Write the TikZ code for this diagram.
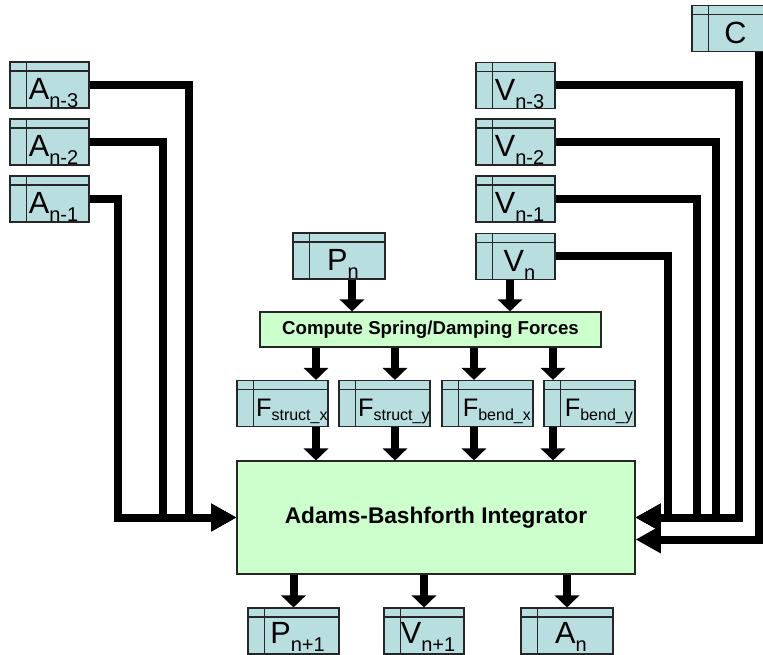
\documentclass[tikz,border=0pt]{standalone}
\usepackage{fontspec}
\setmainfont{Liberation Sans}
\usetikzlibrary{arrows.meta}
\definecolor{storeblue}{HTML}{B8DEE0}
\definecolor{procgreen}{HTML}{CCFFCC}
\newcommand{\lsub}[1]{\raisebox{-6pt}{\fontsize{15}{15}\selectfont #1}}
\newcommand{\fsub}[1]{\raisebox{-3pt}{\fontsize{12}{12}\selectfont #1}}
\tikzset {
  >=Stealth,
  store/.style={draw=black!85, line width=0.8pt, fill=storeblue, inner sep=0pt,
    text height=28.5pt, text depth=6pt, minimum width=#1,
    font=\fontsize{23}{23}\selectfont,
    execute at begin node={\kern6pt},
    path picture={
      \draw[line width=0.8pt] ([yshift=-6.75pt]path picture bounding box.north west) -- ([yshift=-6.75pt]path picture bounding box.north east);
      \draw[line width=0.8pt] ([xshift=12.5pt]path picture bounding box.north west) -- ([xshift=12.5pt]path picture bounding box.south west);
    }},
  store/.default=59.25pt,
  force/.style={store=68.25pt, font=\fontsize{19}{19}\selectfont,
    text height=27pt, text depth=7.5pt, execute at begin node={\kern8pt}},
  result/.style={store=#1, text height=26.5pt, text depth=8pt},
  proc/.style={draw=black!85, line width=0.8pt, fill=procgreen, inner sep=0pt},
  feed/.style={line width=6pt, -{Triangle[width=18pt,length=9pt]}},
  side/.style={line width=6pt, -{Triangle[width=19.5pt,length=19pt]}},
}
\begin{document}
\begin{tikzpicture}[x=0.75pt,y=-0.75pt]
\useasboundingbox (0,0) rectangle (763,655);
% old accelerations
\node[store] (An3) at (49.5,85) {A\lsub{n-3}};
\node[store] (An2) at (49.5,142) {A\lsub{n-2}};
\node[store] (An1) at (49.5,199) {A\lsub{n-1}};
% old velocities and constants
\node[store] (Vn3) at (515.5,85.5) {V\lsub{n-3}};
\node[store] (Vn2) at (515.5,142) {V\lsub{n-2}};
\node[store] (Vn1) at (515.5,199) {V\lsub{n-1}};
\node[store] (Vn) at (515.5,256.5) {V\lsub{n}};
\node[store=69pt] (Pn) at (339,256) {P\lsub{n}};
\node[store] (C) at (731.5,28.5) {C};
% processes
\node[proc, minimum width=255.75pt, minimum height=26.25pt,
  font=\bfseries\fontsize{14}{14}\selectfont] (Comp) at (430.5,329.5) {Compute Spring/Damping Forces};
\node[proc, minimum width=298.5pt, minimum height=84.75pt,
  font=\bfseries\fontsize{17}{17}\selectfont] (Int) at (436,517.5) {Adams-Bashforth Integrator};
% forces
\node[force] (Fsx) at (282.5,403.5) {F\fsub{struct\_x}};
\node[force] (Fsy) at (384.5,403.5) {F\fsub{struct\_y}};
\node[force] (Fbx) at (487.5,403.5) {F\fsub{bend\_x}};
\node[force] (Fby) at (589.5,403.5) {F\fsub{bend\_y}};
% results
\node[result=68.25pt] (Pn1) at (293.5,631) {P\lsub{n+1}};
\node[result=60pt] (Vnn1) at (424,631) {V\lsub{n+1}};
\node[result=69pt] (An) at (567,631) {A\lsub{n}};
% columns
\coordinate (colP) at (352,0);
\coordinate (colV) at (510,0);
\coordinate (f1) at (316,0);
\coordinate (f2) at (395,0);
\coordinate (f3) at (474,0);
\coordinate (f4) at (553,0);
\coordinate (a3) at (189,0);
\coordinate (a2) at (163,0);
\coordinate (a1) at (118,0);
\coordinate (v3) at (739,0);
\coordinate (v2) at (716,0);
\coordinate (v1) at (697,0);
\coordinate (v0) at (668,0);
\coordinate (cc) at (759,0);
% inputs to force computation
\draw[feed] (Pn.south -| colP) -- (Comp.north -| colP);
\draw[feed] (Vn.south -| colV) -- (Comp.north -| colV);
\draw[feed] (Comp.south -| f1) -- (Fsx.north -| f1);
\draw[feed] (Comp.south -| f2) -- (Fsy.north -| f2);
\draw[feed] (Comp.south -| f3) -- (Fbx.north -| f3);
\draw[feed] (Comp.south -| f4) -- (Fby.north -| f4);
\draw[feed] (Fsx.south -| f1) -- (Int.north -| f1);
\draw[feed] (Fsy.south -| f2) -- (Int.north -| f2);
\draw[feed] (Fbx.south -| f3) -- (Int.north -| f3);
\draw[feed] (Fby.south -| f4) -- (Int.north -| f4);
% outputs
\draw[feed] (Int.south -| Pn1) -- (Pn1.north);
\draw[feed] (Int.south -| Vnn1) -- (Vnn1.north);
\draw[feed] (Int.south -| An) -- (An.north);
% history buses
\draw[side] (An3.east) -| (a3 |- Int.west) -- (Int.west);
\draw[side] (An2.east) -| (a2 |- Int.west) -- (Int.west);
\draw[side] (An1.east) -| (a1 |- Int.west) -- (Int.west);
\draw[side] (Vn3.east) -| (v3 |- Int.east) -- (Int.east);
\draw[side] (Vn2.east) -| (v2 |- Int.east) -- (Int.east);
\draw[side] (Vn1.east) -| (v1 |- Int.east) -- (Int.east);
\draw[side] (Vn.east) -| (v0 |- Int.east) -- (Int.east);
\draw[side] (C.south -| cc) |- ([yshift=-16.5pt]Int.east);
\end{tikzpicture}
\end{document}
